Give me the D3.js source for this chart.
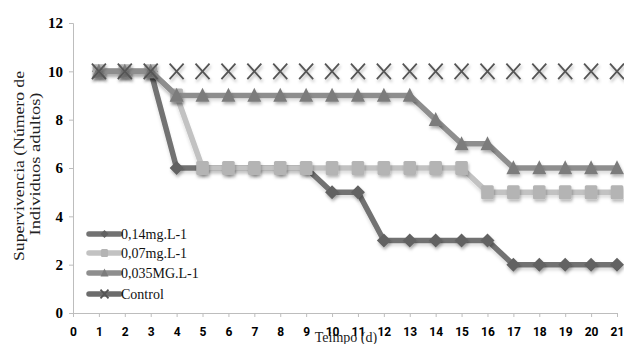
<!DOCTYPE html>
<html><head><meta charset="utf-8">
<script src="https://cdn.jsdelivr.net/npm/d3@7"></script>
<style>html,body{margin:0;padding:0;background:#fff;}svg{display:block;}
.serif{font-family:"Liberation Serif","Times New Roman",serif;}
.sans{font-family:Roboto,"Liberation Sans",sans-serif;}
</style>
</head><body>
<svg id="c" width="624" height="344"></svg>
<script>
const days = [1,2,3,4,5,6,7,8,9,10,11,12,13,14,15,16,17,18,19,20,21];
const xTicks = [0,1,2,3,4,5,6,7,8,9,10,11,12,13,14,15,16,17,18,19,20,21];
const yTicks = [0,2,4,6,8,10,12];
const seriesNames = ["0,14mg.L-1","0,07mg.L-1","0,035MG.L-1","Control"];
const s014 = [10,10,10,6,6,6,6,6,6,5,5,3,3,3,3,3,2,2,2,2,2];
const s007 = [10,10,10,9,6,6,6,6,6,6,6,6,6,6,6,5,5,5,5,5,5];
const s0035 = [10,10,10,9,9,9,9,9,9,9,9,9,9,8,7,7,6,6,6,6,6];
const sControl = [10,10,10,10,10,10,10,10,10,10,10,10,10,10,10,10,10,10,10,10,10];
const xTitle = "Teimpo (d)";
const yTitle1 = "Supervivencia  (Número de";
const yTitle2 = "Individuos adultos)";

const series = [
  {name: seriesNames[0], values: s014, line: "#727272", fill: "#626262", sym: "diamond"},
  {name: seriesNames[1], values: s007, line: "#c2c2c2", fill: "#b4b4b4", sym: "square"},
  {name: seriesNames[2], values: s0035, line: "#8e8e8e", fill: "#7c7c7c", sym: "triangle"},
  {name: seriesNames[3], values: sControl, line: "#6c6c6c", fill: "#555555", sym: "x"}
];

const svg = d3.select("#c");
const defs = svg.append("defs");
const f = defs.append("filter").attr("id","sh").attr("x","-50%").attr("y","-50%").attr("width","200%").attr("height","200%");
f.append("feDropShadow").attr("dx",1).attr("dy",2.5).attr("stdDeviation",1.5).attr("flood-color","#000").attr("flood-opacity",0.28);
const f2 = defs.append("filter").attr("id","sh2").attr("x","-10%").attr("y","-50%").attr("width","120%").attr("height","200%");
f2.append("feDropShadow").attr("dx",0).attr("dy",3).attr("stdDeviation",1.5).attr("flood-color","#000").attr("flood-opacity",0.12);

const x = d3.scaleLinear().domain([0,21]).range([73,617]);
const y = d3.scaleLinear().domain([0,12]).range([313,23]);

// axes
const yAxis = svg.append("g").attr("transform","translate(73,0)")
  .call(d3.axisLeft(y).tickValues(yTicks).tickSize(4).tickPadding(6));
yAxis.attr("font-family",null);
yAxis.select(".domain").attr("stroke","#bdbdbd");
yAxis.selectAll(".tick line").attr("stroke","#bdbdbd");
yAxis.selectAll(".tick text").attr("class","serif").style("font-weight","700")
  .style("font-size","15px").attr("fill","#000");

const xAxis = svg.append("g").attr("transform","translate(0,313)")
  .call(d3.axisBottom(x).tickValues(xTicks).tickSize(4).tickPadding(10));
xAxis.attr("font-family",null);
xAxis.select(".domain").attr("stroke","#bdbdbd");
xAxis.selectAll(".tick line").attr("stroke","#bdbdbd");
xAxis.selectAll(".tick text").attr("class","sans").style("font-weight","700")
  .style("font-size","12px").attr("fill","#000");

// titles
svg.append("text").attr("class","serif").attr("x",346).attr("y",342).attr("text-anchor","middle")
  .style("font-size","14px").attr("fill","#222").text(xTitle);
svg.append("text").attr("class","serif").attr("transform","translate(24,166) rotate(-90)").attr("text-anchor","middle")
  .style("font-size","15px").attr("fill","#222")
  .attr("textLength",190).attr("lengthAdjust","spacingAndGlyphs").text(yTitle1);
svg.append("text").attr("class","serif").attr("transform","translate(40,164) rotate(-90)").attr("text-anchor","middle")
  .style("font-size","15px").attr("fill","#222")
  .attr("textLength",143).attr("lengthAdjust","spacingAndGlyphs").text(yTitle2);

function marker(g, sym, cx, cy, s, color) {
  if (sym === "diamond") {
    g.append("path").attr("d",`M${cx},${cy-s/2}L${cx+s/2},${cy}L${cx},${cy+s/2}L${cx-s/2},${cy}Z`).attr("fill",color);
  } else if (sym === "square") {
    g.append("rect").attr("x",cx-s*0.45).attr("y",cy-s*0.5).attr("width",s*0.9).attr("height",s).attr("rx",1.5).attr("fill",color);
  } else if (sym === "triangle") {
    g.append("path").attr("d",`M${cx},${cy-s*0.55}L${cx+s/2},${cy+s*0.45}L${cx-s/2},${cy+s*0.45}Z`).attr("fill",color);
  } else {
    const h = s/2;
    g.append("path").attr("d",`M${cx-h},${cy-h*1.1}L${cx+h},${cy+h*1.1}M${cx+h},${cy-h*1.1}L${cx-h},${cy+h*1.1}`)
      .attr("stroke",color).attr("stroke-width",1.8).attr("fill","none");
  }
}

const line = d3.line().x((d,i)=>x(days[i])).y(d=>y(d));
series.forEach(s => {
  const g = svg.append("g");
  g.append("path").attr("d", line(s.values)).attr("fill","none").attr("stroke",s.line)
    .attr("stroke-width",5.5).attr("stroke-linejoin","round").attr("filter","url(#sh2)");
  const mg = g.append("g").attr("filter","url(#sh)");
  s.values.forEach((v,i) => marker(mg, s.sym, x(days[i]), y(v), 14, s.fill));
});

// legend
const legY = [234,253,273,294];
series.forEach((s,i) => {
  const g = svg.append("g");
  g.append("line").attr("x1",89).attr("x2",120).attr("y1",legY[i]).attr("y2",legY[i])
    .attr("stroke",s.line).attr("stroke-width",5.5).attr("stroke-linecap","round");
  marker(g, s.sym, 104.5, legY[i], 8, s.fill);
  g.append("text").attr("class","serif").attr("x",121).attr("y",legY[i]+5)
    .style("font-size","14px").attr("fill","#111").text(s.name);
});
</script>
</body></html>
